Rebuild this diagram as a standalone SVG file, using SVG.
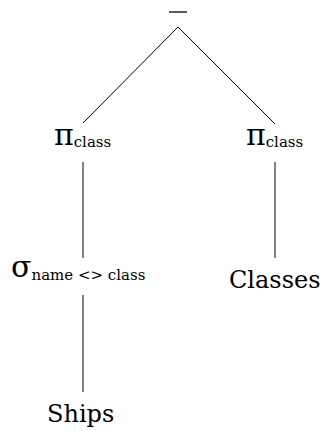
<svg xmlns="http://www.w3.org/2000/svg" width="330" height="431" viewBox="0 0 330 431">
<style>
text{font-family:"DejaVu Serif",serif;fill:#000}
.big{font-size:24px}
.sym{font-size:30px}
.sub{font-size:15px}
.e{stroke:#000;stroke-width:1;fill:none}
</style>
<rect width="330" height="431" fill="#fff"/>
<g id="connectors">
<line class="e" x1="178" y1="27" x2="83" y2="123"/>
<line class="e" x1="178" y1="27" x2="275" y2="124"/>
<line class="e" x1="83" y1="162" x2="83" y2="258"/>
<line class="e" x1="275" y1="162" x2="275" y2="258"/>
<line class="e" x1="83" y1="295" x2="83" y2="392"/>
</g>
<g id="minus"><line x1="169" y1="12" x2="187" y2="12" stroke="#000" stroke-width="1.3"/></g>
<g id="pi-left"><text x="54" y="145"><tspan class="sym">π</tspan><tspan class="sub" dy="2">class</tspan></text></g>
<g id="pi-right"><text x="246" y="145"><tspan class="sym">π</tspan><tspan class="sub" dy="2">class</tspan></text></g>
<g id="sigma"><text x="11" y="277"><tspan class="sym">σ</tspan><tspan class="sub" dy="3">name &lt;&gt; class</tspan></text></g>
<g id="classes"><text class="big" x="229" y="288">Classes</text></g>
<g id="ships"><text class="big" x="47" y="422">Ships</text></g>
</svg>
